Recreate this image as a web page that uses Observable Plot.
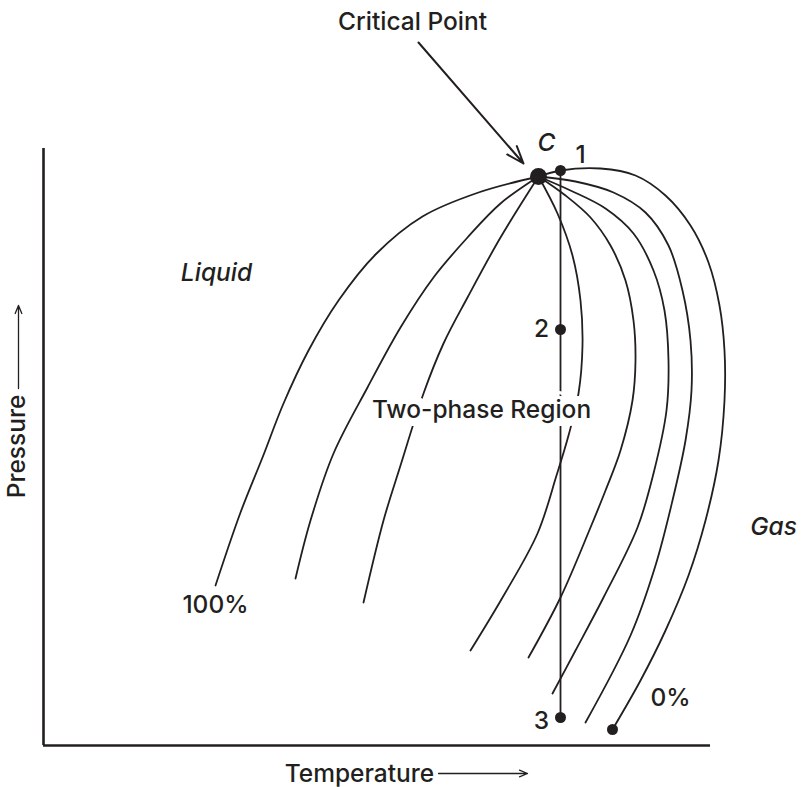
<!DOCTYPE html>
<html>
<head>
<meta charset="utf-8">
<script src="https://cdn.jsdelivr.net/npm/d3@7"></script>
<script src="https://cdn.jsdelivr.net/npm/@observablehq/plot@0.6"></script>
<style>
  html, body { margin: 0; padding: 0; background: #fff; overflow: hidden; }
  #chart { width: 801px; height: 787px; }
</style>
</head>
<body>
<div id="chart"></div>
<script>
// Axis extents (arbitrary temperature / pressure units)
const tempLimits = [0, 667];
const pressLimits = [0, 597];

// Quality lines (liquid fraction), each [temperature, pressure], starting at the critical point
const curve100 = [[495,569],[435,553],[379,529],[332,491],[295,445],[265,395],[240,342],[219,288],[197,233],[172,160]];
const curve80  = [[495,569],[457,542],[424,508],[390,468],[357,418],[324,358],[290,292],[267,225],[252,167]];
const curve60  = [[495,569],[457,508],[424,448],[400,402],[380,352],[357,280],[340,225],[320,143]];
const curve40  = [[495,569],[514,532],[529,490],[537,445],[539,400],[535,352],[525,310],[513,270],[494,212],[459,148],[427,95]];
const curve30  = [[495,569],[522,550],[547,528],[567,500],[582,465],[590,425],[592,385],[589,345],[577,295],[562,255],[547,218],[517,148],[485,88]];
const curve20  = [[495,569],[527,555],[562,537],[590,512],[610,475],[621,435],[625,385],[623,335],[610,272],[594,218],[560,148],[532,95],[509,52]];
const curve10  = [[495,569],[532,564],[570,553],[602,533],[625,500],[639,455],[647,405],[648,355],[642,305],[629,245],[612,180],[587,110],[542,23]];
const curve0   = [[495,569],[517,575],[557,577],[592,570],[622,550],[647,520],[665,483],[676,440],[681,395],[681,345],[675,285],[662,225],[645,170],[622,115],[597,65],[569,16]];
const curveNames = ["100%","80%","60%","40%","30%","20%","10%","0%"];
const curveSets = [curve100, curve80, curve60, curve40, curve30, curve20, curve10, curve0];

// Isothermal path 1 -> 3
const isotherm = [[517,575],[517,28]];

// Points
const criticalPoint = [[495,569]];
const statePoints = [[517,575],[517,416],[517,28],[569,16]];

// Labels: [text, T, P]
const plainLabels = [["Critical Point",369,723],["1",537,590],["2",498,416],["3",498,24],["100%",172,140],["0%",627,47]];
const italicLabels = [["C",503,602],["Liquid",173,472],["Gas",730,218]];
const regionLabel = [["Two-phase Region",438,335]];
const axisTitles = [["Temperature",316,-29,0],["Pressure",-26,299,-90]];

// Arrows: [T1,P1,T2,P2]
const pointerArrow = [[375,703,480,582]];
const axisArrows = [[395,-28,484,-28],[-25,357,-25,440]];

const ink = "#231f20";
const font = "Inter, 'Liberation Sans', Arial, sans-serif";
const fs = 24.5;

const curveRows = curveSets.flatMap((c, i) => c.map(([T, P]) => ({T, P, curve: curveNames[i]})));
const toXY = a => a.map(([T, P]) => ({T, P}));
const lab = a => a.map(([text, T, P, rotate]) => ({text, T, P, rotate: rotate || 0}));
const arr = a => a.map(([T1, P1, T2, P2]) => ({T1, P1, T2, P2}));

const chart = Plot.plot({
  width: 801,
  height: 787,
  marginLeft: 43,
  marginRight: 91,
  marginTop: 148,
  marginBottom: 42,
  x: {domain: tempLimits, axis: null},
  y: {domain: pressLimits, axis: null},
  style: {background: "#fff", overflow: "visible"},
  marks: [
    Plot.ruleX([tempLimits[0]], {y1: pressLimits[0], y2: pressLimits[1], stroke: ink, strokeWidth: 2.6}),
    Plot.ruleY([pressLimits[0]], {x1: tempLimits[0], x2: tempLimits[1], stroke: ink, strokeWidth: 2.6}),
    Plot.line(curveRows, {x: "T", y: "P", z: "curve", curve: "catmull-rom", stroke: ink, strokeWidth: 1.8}),
    Plot.line(toXY(isotherm), {x: "T", y: "P", stroke: ink, strokeWidth: 1.8}),
    Plot.text(lab(regionLabel), {x: "T", y: "P", text: "text", fill: ink, stroke: "#fff", strokeWidth: 16, fontSize: fs, fontWeight: 500, fontFamily: font}),
    Plot.dot(toXY(criticalPoint), {x: "T", y: "P", r: 8.5, fill: ink}),
    Plot.dot(toXY(statePoints), {x: "T", y: "P", r: 5.5, fill: ink}),
    Plot.arrow(arr(pointerArrow), {x1: "T1", y1: "P1", x2: "T2", y2: "P2", stroke: ink, strokeWidth: 2, headLength: 14, headAngle: 40}),
    Plot.arrow(arr(axisArrows), {x1: "T1", y1: "P1", x2: "T2", y2: "P2", stroke: ink, strokeWidth: 1.3, headLength: 10, headAngle: 45}),
    Plot.text(lab(plainLabels), {x: "T", y: "P", text: "text", fill: ink, fontSize: fs, fontWeight: 500, fontFamily: font}),
    Plot.text(lab(italicLabels), {x: "T", y: "P", text: "text", fill: ink, fontSize: fs, fontWeight: 500, fontStyle: "italic", fontFamily: font}),
    Plot.text(lab(axisTitles), {x: "T", y: "P", text: "text", rotate: "rotate", fill: ink, fontSize: fs, fontWeight: 500, fontFamily: font})
  ]
});
document.getElementById("chart").appendChild(chart);
</script>
</body>
</html>
